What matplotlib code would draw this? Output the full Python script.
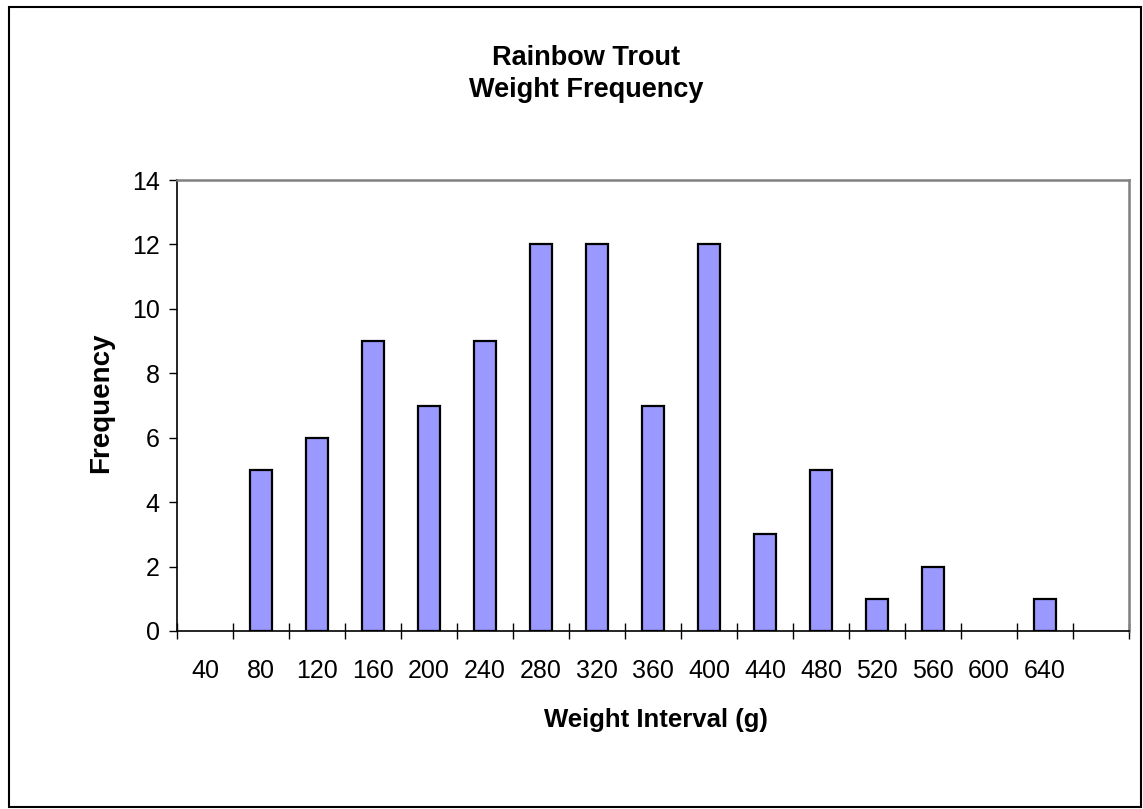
import matplotlib
matplotlib.use("Agg")
import matplotlib.pyplot as plt
from matplotlib.patches import Rectangle

plt.rcParams['font.family'] = ['Liberation Sans', 'DejaVu Sans']

# weight intervals (g); last slot is blank in the original
intervals = ['40', '80', '120', '160', '200', '240', '280', '320', '360',
             '400', '440', '480', '520', '560', '600', '640', '']
frequency = [0, 5, 6, 9, 7, 9, 12, 12, 7, 12, 3, 5, 1, 2, 0, 1, 0]

W, H = 1143, 809
fig = plt.figure(figsize=(W / 100, H / 100), dpi=100)
ax = fig.add_axes([177 / W, 1 - 631 / H, 952 / W, 451 / H])

# only draw non-empty bins (Excel shows nothing for zero)
xs = [i for i, v in enumerate(frequency) if v > 0]
hs = [frequency[i] for i in xs]
ax.bar(xs, hs, width=0.41, color='#9999ff', edgecolor='black', linewidth=1.6)

n = len(intervals)
ax.set_xlim(-0.5, n - 0.5)
ax.set_ylim(0, 14)
ax.set_yticks(range(0, 15, 2))
ax.set_xticks(range(n))
ax.set_xticklabels(intervals)
ax.set_xticks([i - 0.5 for i in range(n + 1)], minor=True)
ax.tick_params(axis='x', which='major', length=0, pad=20, labelsize=18)
ax.tick_params(axis='x', which='minor', direction='inout', length=11.5, width=1)
ax.tick_params(axis='y', direction='out', length=5.5, width=1, labelsize=18, pad=7)

for s in ['top', 'right']:
    ax.spines[s].set_color('#808080')
    ax.spines[s].set_linewidth(1.8)
for s in ['left', 'bottom']:
    ax.spines[s].set_color('black')
    ax.spines[s].set_linewidth(1.2)

fig.text(656 / W, 1 - 727 / H, 'Weight Interval (g)', ha='center', va='baseline',
         fontsize=18.5, fontweight='bold')
fig.text(101 / W, 1 - 403 / H, 'Frequency', ha='center', va='center', rotation=90,
         fontsize=20, fontweight='bold')
fig.text(586 / W, 1 - 97 / H, 'Rainbow Trout\nWeight Frequency', ha='center',
         va='baseline', fontsize=19.5, fontweight='bold', linespacing=1.3,
         multialignment='center')

fig.patches.append(Rectangle((9 / W, 2 / H), 1132 / W, 800 / H,
                             transform=fig.transFigure, fill=False,
                             edgecolor='black', linewidth=1.5))

fig.savefig('out.png', dpi=100)
